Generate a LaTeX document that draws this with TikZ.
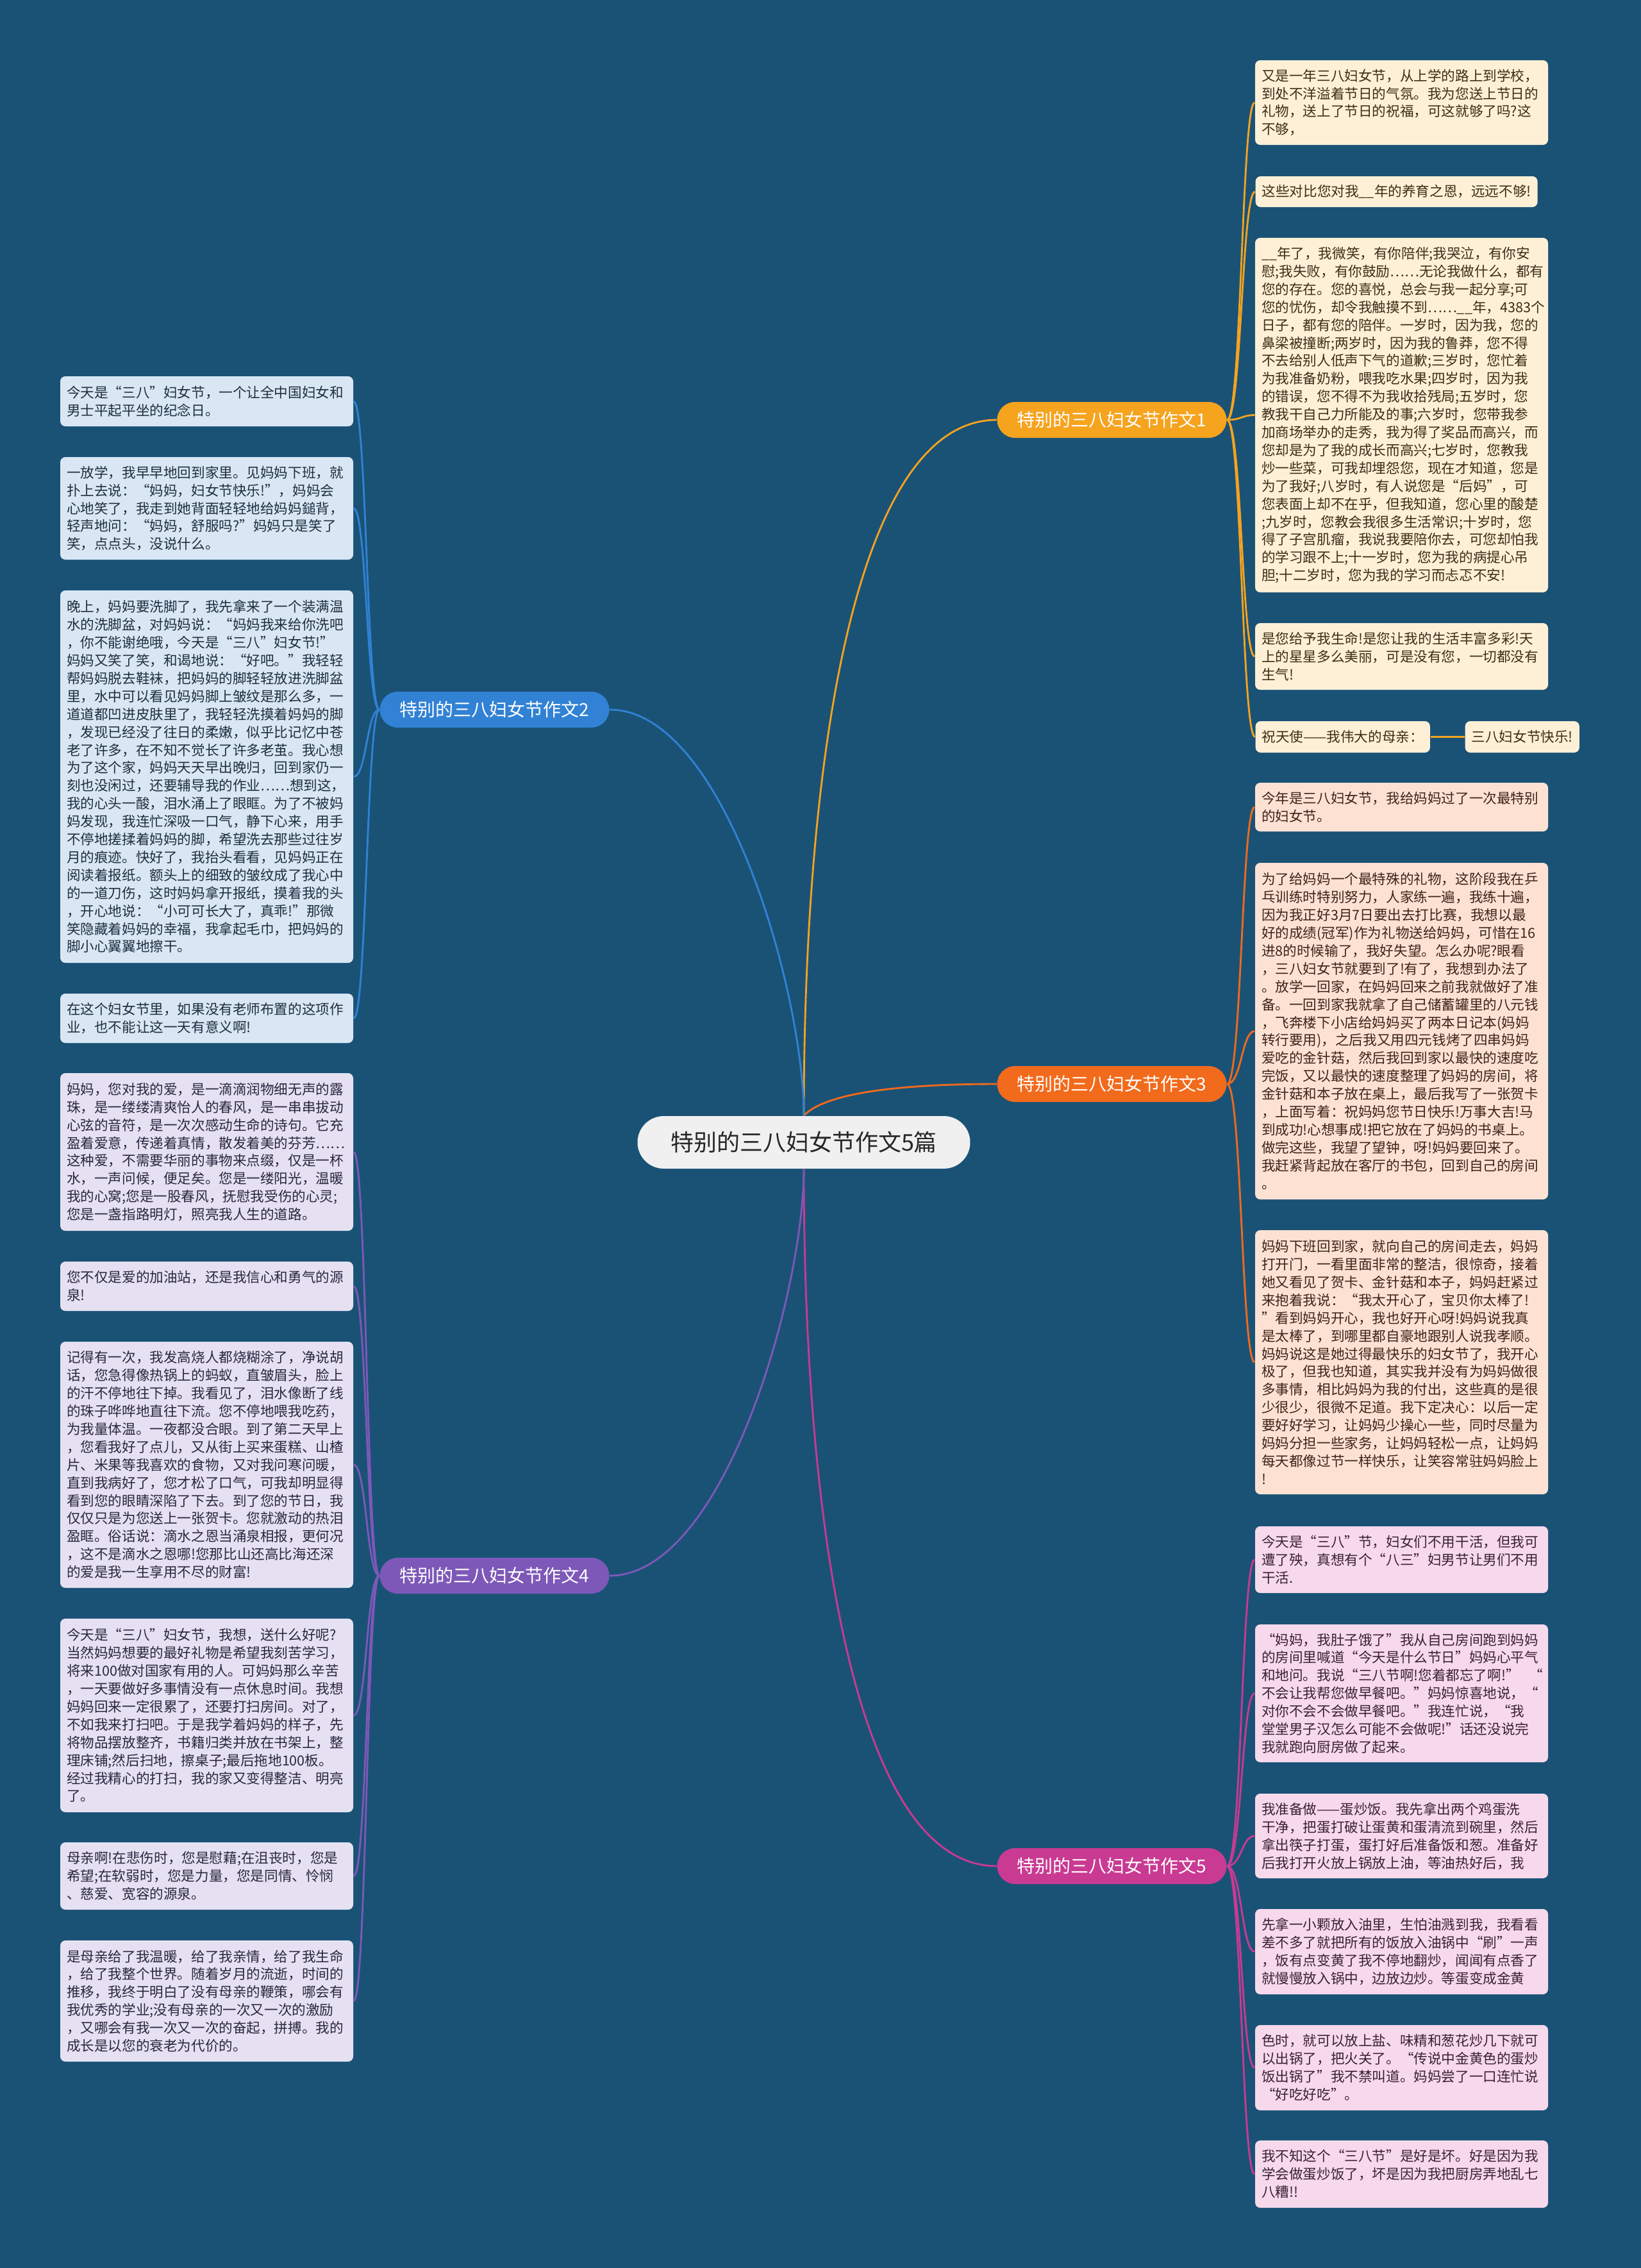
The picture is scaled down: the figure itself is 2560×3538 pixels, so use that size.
\documentclass[tikz,border=0pt]{standalone}
\usepackage{fontspec}
\setmainfont{Noto Sans CJK SC}
\definecolor{bgc}{HTML}{1A5276}
\definecolor{ca}{HTML}{F6A31E}
\definecolor{cc}{HTML}{F26A1C}
\definecolor{ce}{HTML}{C93A92}
\definecolor{cb}{HTML}{3182D4}
\definecolor{cd}{HTML}{7D58B8}
\definecolor{fa}{HTML}{FDF0D6}
\definecolor{fc}{HTML}{FDE2D4}
\definecolor{fe}{HTML}{F7D9EC}
\definecolor{fb}{HTML}{D9E7F5}
\definecolor{fd}{HTML}{E5E1F2}
\definecolor{ta}{HTML}{3D2C18}
\definecolor{tc}{HTML}{3D2418}
\definecolor{te}{HTML}{3A2034}
\definecolor{tb}{HTML}{1F2E3E}
\definecolor{td}{HTML}{2A2640}
\newcommand\rconn[5]{\draw[#1,conn] (#2.east) .. controls (1937,#3) and (1937,#5) .. (#4.west);}
\newcommand\lconn[5]{\draw[#1,conn] (#2.west) .. controls (572,#3) and (572,#5) .. (#4.east);}
\tikzset{
  leafbox/.style={rounded corners=2.4pt, inner xsep=3pt, inner ysep=0pt,
    font=\fontsize{6.48pt}{8.37pt}\selectfont, align=left},
  leafw/.style={leafbox, text width=131.1pt},
  ba/.style={fill=fa, text=ta},
  bc/.style={fill=fc, text=tc},
  be/.style={fill=fe, text=te},
  bb/.style={fill=fb, text=tb},
  bd/.style={fill=fd, text=td},
  pill/.style={rounded corners=8.4pt, minimum height=16.8pt, minimum width=107.4pt,
    inner sep=0pt, text=white, font=\fontsize{8.4pt}{10pt}\selectfont},
  centre/.style={rounded corners=12.3pt, minimum height=24.6pt, minimum width=155.7pt,
    inner sep=0pt, fill=black!6, text=black!85, font=\fontsize{10.8pt}{13pt}\selectfont},
  conn/.style={line width=0.85pt}
}
\begin{document}
\begin{tikzpicture}[x=0.3pt,y=-0.3pt]
\useasboundingbox (0,0) rectangle (2560,3538);
\fill[bgc] (0,0) rectangle (2560,3538);

% centre and branches
\node[centre] (C) at (1254,1782) {特别的三八妇女节作文5篇};
\node[pill, fill=ca] (P1) at (1734.5,655) {特别的三八妇女节作文1};
\node[pill, fill=cc] (P3) at (1734.5,1691) {特别的三八妇女节作文3};
\node[pill, fill=ce] (P5) at (1734.5,2911) {特别的三八妇女节作文5};
\node[pill, fill=cb] (P2) at (771.5,1107) {特别的三八妇女节作文2};
\node[pill, fill=cd] (P4) at (771.5,2458) {特别的三八妇女节作文4};

% branch 1 leaves
\node[leafw, ba, minimum height=132*0.3pt] (L11) at (2186.5,160) {又是一年三八妇女节，从上学的路上到学校，\\到处不洋溢着节日的气氛。我为您送上节日的\\礼物，送上了节日的祝福，可这就够了吗?这\\不够，};
\node[leafbox, ba, minimum height=48*0.3pt, anchor=west] (L12) at (1958,299) {这些对比您对我\_\_年的养育之恩，远远不够!};
\node[leafw, ba, minimum height=553*0.3pt] (L13) at (2186.5,647.5) {\_\_年了，我微笑，有你陪伴;我哭泣，有你安\\慰;我失败，有你鼓励……无论我做什么，都有\\您的存在。您的喜悦，总会与我一起分享;可\\您的忧伤，却令我触摸不到……\_\_年，4383个\\日子，都有您的陪伴。一岁时，因为我，您的\\鼻梁被撞断;两岁时，因为我的鲁莽，您不得\\不去给别人低声下气的道歉;三岁时，您忙着\\为我准备奶粉，喂我吃水果;四岁时，因为我\\的错误，您不得不为我收拾残局;五岁时，您\\教我干自己力所能及的事;六岁时，您带我参\\加商场举办的走秀，我为得了奖品而高兴，而\\您却是为了我的成长而高兴;七岁时，您教我\\炒一些菜，可我却埋怨您，现在才知道，您是\\为了我好;八岁时，有人说您是“后妈”，可\\您表面上却不在乎，但我知道，您心里的酸楚\\;九岁时，您教会我很多生活常识;十岁时，您\\得了子宫肌瘤，我说我要陪你去，可您却怕我\\的学习跟不上;十一岁时，您为我的病提心吊\\胆;十二岁时，您为我的学习而忐忑不安!};
\node[leafw, ba, minimum height=104*0.3pt] (L14) at (2186.5,1024) {是您给予我生命!是您让我的生活丰富多彩!天\\上的星星多么美丽，可是没有您，一切都没有\\生气!};
\node[leafbox, ba, minimum height=49*0.3pt, anchor=west] (L15) at (1958,1149.5) {祝天使——我伟大的母亲：};
\node[leafbox, ba, minimum height=49*0.3pt, anchor=west] (L16) at (2285,1149.5) {三八妇女节快乐!};

% branch 3 leaves
\node[leafw, bc, minimum height=76*0.3pt] (L31) at (2186.5,1259) {今年是三八妇女节，我给妈妈过了一次最特别\\的妇女节。};
\node[leafw, bc, minimum height=525*0.3pt] (L32) at (2186.5,1608.5) {为了给妈妈一个最特殊的礼物，这阶段我在乒\\乓训练时特别努力，人家练一遍，我练十遍，\\因为我正好3月7日要出去打比赛，我想以最\\好的成绩(冠军)作为礼物送给妈妈，可惜在16\\进8的时候输了，我好失望。怎么办呢?眼看\\，三八妇女节就要到了!有了，我想到办法了\\。放学一回家，在妈妈回来之前我就做好了准\\备。一回到家我就拿了自己储蓄罐里的八元钱\\，飞奔楼下小店给妈妈买了两本日记本(妈妈\\转行要用)，之后我又用四元钱烤了四串妈妈\\爱吃的金针菇，然后我回到家以最快的速度吃\\完饭，又以最快的速度整理了妈妈的房间，将\\金针菇和本子放在桌上，最后我写了一张贺卡\\，上面写着：祝妈妈您节日快乐!万事大吉!马\\到成功!心想事成!把它放在了妈妈的书桌上。\\做完这些，我望了望钟，呀!妈妈要回来了。\\我赶紧背起放在客厅的书包，回到自己的房间\\。};
\node[leafw, bc, minimum height=412*0.3pt] (L33) at (2186.5,2125) {妈妈下班回到家，就向自己的房间走去，妈妈\\打开门，一看里面非常的整洁，很惊奇，接着\\她又看见了贺卡、金针菇和本子，妈妈赶紧过\\来抱着我说：“我太开心了，宝贝你太棒了!\\”看到妈妈开心，我也好开心呀!妈妈说我真\\是太棒了，到哪里都自豪地跟别人说我孝顺。\\妈妈说这是她过得最快乐的妇女节了，我开心\\极了，但我也知道，其实我并没有为妈妈做很\\多事情，相比妈妈为我的付出，这些真的是很\\少很少，很微不足道。我下定决心：以后一定\\要好好学习，让妈妈少操心一些，同时尽量为\\妈妈分担一些家务，让妈妈轻松一点，让妈妈\\每天都像过节一样快乐，让笑容常驻妈妈脸上\\!};

% branch 5 leaves
\node[leafw, be, minimum height=104*0.3pt] (L51) at (2186.5,2433) {今天是“三八”节，妇女们不用干活，但我可\\遭了殃，真想有个“八三”妇男节让男们不用\\干活.};
\node[leafw, be, minimum height=215*0.3pt] (L52) at (2186.5,2641.5) {“妈妈，我肚子饿了”我从自己房间跑到妈妈\\的房间里喊道“今天是什么节日”妈妈心平气\\和地问。我说“三八节啊!您着都忘了啊!”~~“\\不会让我帮您做早餐吧。”妈妈惊喜地说，“\\对你不会不会做早餐吧。”我连忙说，“我\\堂堂男子汉怎么可能不会做呢!”话还没说完\\我就跑向厨房做了起来。};
\node[leafw, be, minimum height=132*0.3pt] (L53) at (2186.5,2864) {我准备做——蛋炒饭。我先拿出两个鸡蛋洗\\干净，把蛋打破让蛋黄和蛋清流到碗里，然后\\拿出筷子打蛋，蛋打好后准备饭和葱。准备好\\后我打开火放上锅放上油，等油热好后，我};
\node[leafw, be, minimum height=133*0.3pt] (L54) at (2186.5,3044.5) {先拿一小颗放入油里，生怕油溅到我，我看看\\差不多了就把所有的饭放入油锅中“刷”一声\\，饭有点变黄了我不停地翻炒，闻闻有点香了\\就慢慢放入锅中，边放边炒。等蛋变成金黄};
\node[leafw, be, minimum height=133*0.3pt] (L55) at (2186.5,3225.5) {色时，就可以放上盐、味精和葱花炒几下就可\\以出锅了，把火关了。“传说中金黄色的蛋炒\\饭出锅了”我不禁叫道。妈妈尝了一口连忙说\\“好吃好吃”。};
\node[leafw, be, minimum height=105*0.3pt] (L56) at (2186.5,3391.5) {我不知这个“三八节”是好是坏。好是因为我\\学会做蛋炒饭了，坏是因为我把厨房弄地乱七\\八糟!!};

% branch 2 leaves
\node[leafw, bb, minimum height=78*0.3pt] (L21) at (322.5,626) {今天是“三八”妇女节，一个让全中国妇女和\\男士平起平坐的纪念日。};
\node[leafw, bb, minimum height=160*0.3pt] (L22) at (322.5,793) {一放学，我早早地回到家里。见妈妈下班，就\\扑上去说：“妈妈，妇女节快乐!”，妈妈会\\心地笑了，我走到她背面轻轻地给妈妈鎚背，\\轻声地问：“妈妈，舒服吗?”妈妈只是笑了\\笑，点点头，没说什么。};
\node[leafw, bb, minimum height=581*0.3pt] (L23) at (322.5,1211.5) {晚上，妈妈要洗脚了，我先拿来了一个装满温\\水的洗脚盆，对妈妈说：“妈妈我来给你洗吧\\，你不能谢绝哦，今天是“三八”妇女节!”\\妈妈又笑了笑，和谒地说：“好吧。”我轻轻\\帮妈妈脱去鞋袜，把妈妈的脚轻轻放进洗脚盆\\里，水中可以看见妈妈脚上皱纹是那么多，一\\道道都凹进皮肤里了，我轻轻洗摸着妈妈的脚\\，发现已经没了往日的柔嫩，似乎比记忆中苍\\老了许多，在不知不觉长了许多老茧。我心想\\为了这个家，妈妈天天早出晚归，回到家仍一\\刻也没闲过，还要辅导我的作业……想到这，\\我的心头一酸，泪水涌上了眼眶。为了不被妈\\妈发现，我连忙深吸一口气，静下心来，用手\\不停地搓揉着妈妈的脚，希望洗去那些过往岁\\月的痕迹。快好了，我抬头看看，见妈妈正在\\阅读着报纸。额头上的细致的皱纹成了我心中\\的一道刀伤，这时妈妈拿开报纸，摸着我的头\\，开心地说：“小可可长大了，真乖!”那微\\笑隐藏着妈妈的幸福，我拿起毛巾，把妈妈的\\脚小心翼翼地擦干。};
\node[leafw, bb, minimum height=77*0.3pt] (L24) at (322.5,1588.5) {在这个妇女节里，如果没有老师布置的这项作\\业，也不能让这一天有意义啊!};

% branch 4 leaves
\node[leafw, bd, minimum height=246*0.3pt] (L41) at (322.5,1797) {妈妈，您对我的爱，是一滴滴润物细无声的露\\珠，是一缕缕清爽怡人的春风，是一串串拔动\\心弦的音符，是一次次感动生命的诗句。它充\\盈着爱意，传递着真情，散发着美的芬芳……\\这种爱，不需要华丽的事物来点缀，仅是一杯\\水，一声问候，便足矣。您是一缕阳光，温暖\\我的心窝;您是一股春风，抚慰我受伤的心灵;\\您是一盏指路明灯，照亮我人生的道路。};
\node[leafw, bd, minimum height=77*0.3pt] (L42) at (322.5,2006.5) {您不仅是爱的加油站，还是我信心和勇气的源\\泉!};
\node[leafw, bd, minimum height=384*0.3pt] (L43) at (322.5,2285) {记得有一次，我发高烧人都烧糊涂了，净说胡\\话，您急得像热锅上的蚂蚁，直皱眉头，脸上\\的汗不停地往下掉。我看见了，泪水像断了线\\的珠子哗哗地直往下流。您不停地喂我吃药，\\为我量体温。一夜都没合眼。到了第二天早上\\，您看我好了点儿，又从街上买来蛋糕、山楂\\片、米果等我喜欢的食物，又对我问寒问暖，\\直到我病好了，您才松了口气，可我却明显得\\看到您的眼睛深陷了下去。到了您的节日，我\\仅仅只是为您送上一张贺卡。您就激动的热泪\\盈眶。俗话说：滴水之恩当涌泉相报，更何况\\，这不是滴水之恩哪!您那比山还高比海还深\\的爱是我一生享用不尽的财富!};
\node[leafw, bd, minimum height=302*0.3pt] (L44) at (322.5,2676) {今天是“三八”妇女节，我想，送什么好呢?\\当然妈妈想要的最好礼物是希望我刻苦学习，\\将来100做对国家有用的人。可妈妈那么辛苦\\，一天要做好多事情没有一点休息时间。我想\\妈妈回来一定很累了，还要打扫房间。对了，\\不如我来打扫吧。于是我学着妈妈的样子，先\\将物品摆放整齐，书籍归类并放在书架上，整\\理床铺;然后扫地，擦桌子;最后拖地100板。\\经过我精心的打扫，我的家又变得整洁、明亮\\了。};
\node[leafw, bd, minimum height=105*0.3pt] (L45) at (322.5,2926.5) {母亲啊!在悲伤时，您是慰藉;在沮丧时，您是\\希望;在软弱时，您是力量，您是同情、怜悯\\、慈爱、宽容的源泉。};
\node[leafw, bd, minimum height=189*0.3pt] (L46) at (322.5,3121.5) {是母亲给了我温暖，给了我亲情，给了我生命\\，给了我整个世界。随着岁月的流逝，时间的\\推移，我终于明白了没有母亲的鞭策，哪会有\\我优秀的学业;没有母亲的一次又一次的激励\\，又哪会有我一次又一次的奋起，拼搏。我的\\成长是以您的衰老为代价的。};

% main branch curves
\draw[ca,conn] (C.north) .. controls (1254,1200) and (1330,655) .. (P1.west);
\draw[cc,conn] (C.north) .. controls (1290,1702) and (1420,1691) .. (P3.west);
\draw[ce,conn] (C.south) .. controls (1254,2364) and (1330,2911) .. (P5.west);
\draw[cb,conn] (C.north) .. controls (1254,1550) and (1130,1107) .. (P2.east);
\draw[cd,conn] (C.south) .. controls (1254,2014) and (1130,2458) .. (P4.east);

% leaf connectors
\rconn{ca}{P1}{655}{L11}{160}
\rconn{ca}{P1}{655}{L12}{299}
\rconn{ca}{P1}{655}{L13}{647.5}
\rconn{ca}{P1}{655}{L14}{1024}
\rconn{ca}{P1}{655}{L15}{1149.5}
\draw[ca,conn] (L15.east) -- (L16.west);
\rconn{cc}{P3}{1691}{L31}{1259}
\rconn{cc}{P3}{1691}{L32}{1608.5}
\rconn{cc}{P3}{1691}{L33}{2125}
\rconn{ce}{P5}{2911}{L51}{2433}
\rconn{ce}{P5}{2911}{L52}{2641.5}
\rconn{ce}{P5}{2911}{L53}{2864}
\rconn{ce}{P5}{2911}{L54}{3044.5}
\rconn{ce}{P5}{2911}{L55}{3225.5}
\rconn{ce}{P5}{2911}{L56}{3391.5}
\lconn{cb}{P2}{1107}{L21}{626}
\lconn{cb}{P2}{1107}{L22}{793}
\lconn{cb}{P2}{1107}{L23}{1211.5}
\lconn{cb}{P2}{1107}{L24}{1588.5}
\lconn{cd}{P4}{2458}{L41}{1797}
\lconn{cd}{P4}{2458}{L42}{2006.5}
\lconn{cd}{P4}{2458}{L43}{2285}
\lconn{cd}{P4}{2458}{L44}{2676}
\lconn{cd}{P4}{2458}{L45}{2926.5}
\lconn{cd}{P4}{2458}{L46}{3121.5}
\end{tikzpicture}
\end{document}
